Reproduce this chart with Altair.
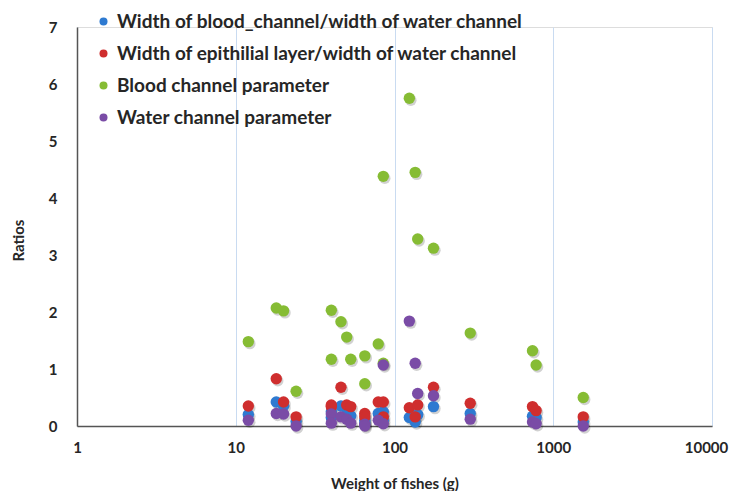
import altair as alt
import pandas as pd

# Fish weights (g) and the four ratios for each fish
weights = [12, 18, 20, 24, 40, 40, 46, 50, 53, 65, 65, 79, 85, 85, 124, 135, 140, 176, 300, 740, 780, 1545]
blood_water_width = [0.20, 0.42, 0.35, 0.08, 0.25, 0.15, 0.35, 0.20, 0.18, 0.10, 0.05, 0.22, 0.10, 0.25,
                     0.15, 0.07, 0.20, 0.34, 0.22, 0.17, 0.15, 0.07]
epith_water_width = [0.35, 0.83, 0.42, 0.16, 0.34, 0.37, 0.68, 0.37, 0.34, 0.22, 0.16, 0.42, 0.16, 0.42,
                     0.32, 0.16, 0.37, 0.68, 0.40, 0.34, 0.27, 0.16]
blood_param = [1.48, 2.07, 2.02, 0.61, 2.03, 1.17, 1.83, 1.56, 1.17, 1.23, 0.74, 1.44, 4.38, 1.10,
               5.75, 4.45, 3.28, 3.12, 1.63, 1.32, 1.07, 0.50]
water_param = [0.10, 0.22, 0.21, 0.00, 0.21, 0.05, 0.16, 0.12, 0.05, 0.03, 0.00, 0.10, 1.07, 0.04,
               1.84, 1.10, 0.57, 0.53, 0.12, 0.07, 0.04, 0.00]

series_names = [
    "Width of blood_channel/width of water channel",
    "Width of epithilial layer/width of water channel",
    "Blood channel parameter",
    "Water channel parameter",
]
series_colors = ["#2E7AD1", "#CF2E2E", "#86BC34", "#7A4CA6"]
x_ticks = [1, 10, 100, 1000, 10000]
y_ticks = [0, 1, 2, 3, 4, 5, 6, 7]

rows = []
for name, vals in zip(series_names, [blood_water_width, epith_water_width, blood_param, water_param]):
    for w, v in zip(weights, vals):
        rows.append({"weight": w, "ratio": v, "series": name})
df = pd.DataFrame(rows)

FONT = "Lato"
TXT = "#262626"

x_enc = alt.X("weight:Q", scale=alt.Scale(type="log", domain=[1, 10000]),
              axis=alt.Axis(values=x_ticks, format="d", title="Weight of fishes (g)",
                            grid=True, gridColor="#C9DBF1", gridWidth=1,
                            ticks=False, labelPadding=14, labelFontSize=15, labelFontWeight="bold",
                            labelColor=TXT, labelFont=FONT, labelFlush=False,
                            labelOffset={"condition": {"test": "datum.value >= 10000", "value": -6},
                                         "value": 0},
                            domainColor="#555555", domainWidth=1.5,
                            titleFontSize=15, titleFontWeight="bold", titleColor=TXT, titleFont=FONT,
                            titleY=57, titleBaseline="middle"))
y_enc = alt.Y("ratio:Q", scale=alt.Scale(domain=[0, 7]),
              axis=alt.Axis(values=y_ticks, title="Ratios", grid=False, ticks=False,
                            labelPadding=20, labelFontSize=15, labelFontWeight="bold",
                            labelColor=TXT, labelFont=FONT,
                            domainColor="#555555", domainWidth=1.5,
                            titleFontSize=15, titleFontWeight="bold", titleColor=TXT, titleFont=FONT,
                            titleX=-59, titleY=213, titleAngle=-90, titleAlign="center",
                            titleBaseline="middle"))

shadow = alt.Chart(df).mark_circle(size=130, color="#000000", opacity=0.18,
                                     xOffset=1.5, yOffset=2).encode(x=x_enc, y=y_enc)

points = alt.Chart(df).mark_circle(size=130, opacity=1).encode(
    x=x_enc, y=y_enc,
    color=alt.Color("series:N", scale=alt.Scale(domain=series_names, range=series_colors),
                    legend=alt.Legend(title=None, orient="none", legendX=17, legendY=-15,
                                      direction="vertical", symbolType="circle", symbolSize=64,
                                      labelFontSize=19, labelFontWeight="bold", labelFont=FONT,
                                      labelColor=TXT, rowPadding=12, labelOffset=4,
                                      padding=0, labelLimit=700)),
)

chart = (shadow + points).properties(
    width=635, height=399,
    autosize=alt.AutoSizeParams(type="none"),
    padding={"left": 69, "top": 19, "right": 18, "bottom": 65},
).configure_view(stroke=None).configure(background="white")

chart.save("out.html", embed_options={"renderer": "svg", "actions": False})
